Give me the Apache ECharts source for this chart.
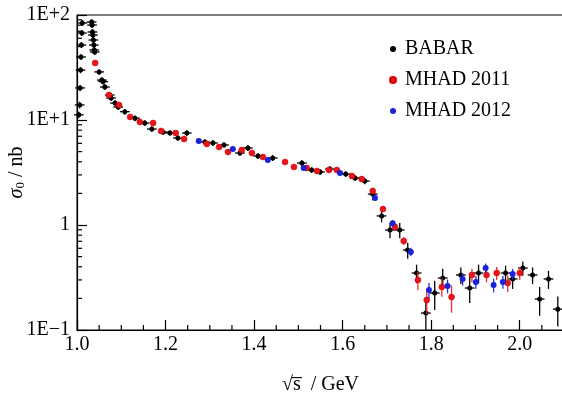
<!DOCTYPE html>
<html>
<head>
<meta charset="utf-8">
<script src="https://cdn.jsdelivr.net/npm/echarts@6/dist/echarts.min.js"></script>
<style>
  html, body { margin: 0; padding: 0; background: #fff; }
  #chart { width: 562px; height: 395px; }
</style>
</head>
<body>
<div id="chart"></div>
<script>
// BABAR points [sqrt(s) GeV, sigma0 nb] and vertical errors (nb)
const babarPoints = [
  [1.004, 11.2], [1.006, 13.9], [1.007, 20.2], [1.008, 29.9], [1.009, 39.8], [1.010, 51.8],
  [1.011, 67.4], [1.012, 83.9], [1.033, 85.8], [1.034, 80.3], [1.035, 68.9], [1.036, 64.5],
  [1.037, 57.8], [1.038, 51.8], [1.039, 46.4], [1.040, 44.4], [1.050, 28.7], [1.056, 24.0],
  [1.059, 23.2], [1.063, 20.6], [1.074, 17.3], [1.077, 16.2], [1.086, 14.5], [1.093, 13.3],
  [1.108, 12.0], [1.131, 10.4], [1.153, 9.36], [1.169, 8.2], [1.194, 7.69], [1.210, 7.52],
  [1.228, 6.74], [1.248, 7.52], [1.289, 6.17], [1.307, 6.04], [1.332, 5.78], [1.368, 4.85],
  [1.386, 5.41], [1.409, 4.54], [1.442, 4.35], [1.508, 3.89], [1.530, 3.34], [1.549, 3.20],
  [1.571, 3.41], [1.607, 3.06], [1.628, 2.80], [1.650, 2.62], [1.668, 1.97], [1.688, 1.22],
  [1.707, 0.896], [1.729, 0.896], [1.747, 0.578], [1.767, 0.349], [1.788, 0.145], [1.808, 0.225],
  [1.826, 0.313], [1.867, 0.334], [1.887, 0.251], [1.907, 0.349], [1.968, 0.349], [1.984, 0.306],
  [2.007, 0.389], [2.029, 0.334], [2.045, 0.197], [2.065, 0.306], [2.086, 0.158]
];
const babarErr = [
  0.8, 1.0, 1.4, 2.0, 2.6, 3.4, 4.4, 5.5, 5.5, 5.2, 4.5, 4.2,
  3.8, 3.4, 3.0, 2.9, 1.9, 1.6, 1.5, 1.3, 1.1, 1.0, 0.9, 0.85,
  0.75, 0.65, 0.6, 0.5, 0.5, 0.45, 0.4, 0.45, 0.4, 0.4, 0.35, 0.3,
  0.33, 0.28, 0.27, 0.25, 0.21, 0.2, 0.21, 0.19, 0.18, 0.17, 0.25, 0.16,
  0.15, 0.15, 0.1, 0.07, 0.06, 0.07, 0.07, 0.06, 0.07, 0.07, 0.06, 0.06,
  0.06, 0.06, 0.06, 0.06, 0.05
];

// MHAD 2011
const mhad2011Points = [
  [1.041, 34.9], [1.072, 17.3], [1.095, 13.9], [1.120, 10.7], [1.142, 9.57], [1.172, 9.36],
  [1.190, 7.86], [1.223, 7.52], [1.242, 6.59], [1.293, 5.91], [1.321, 5.53], [1.341, 4.96],
  [1.372, 5.18], [1.395, 4.85], [1.420, 4.44], [1.470, 3.98], [1.490, 3.57], [1.519, 3.49],
  [1.542, 3.27], [1.569, 3.34], [1.587, 3.34], [1.621, 2.93], [1.643, 2.74], [1.668, 2.11],
  [1.691, 1.42], [1.718, 0.96], [1.738, 0.704], [1.770, 0.299], [1.790, 0.193], [1.824, 0.257],
  [1.846, 0.206], [1.892, 0.334], [1.925, 0.334], [1.948, 0.349], [1.973, 0.280], [2.000, 0.349]
];
const mhad2011Err = [
  1.5, 0.8, 0.6, 0.5, 0.45, 0.45, 0.4, 0.35, 0.3, 0.3, 0.25, 0.25,
  0.25, 0.25, 0.2, 0.2, 0.18, 0.18, 0.16, 0.16, 0.16, 0.15, 0.14, 0.12,
  0.09, 0.07, 0.06, 0.06, 0.05, 0.05, 0.06, 0.05, 0.05, 0.05, 0.05, 0.05
];

// MHAD 2012
const mhad2012Points = [
  [1.275, 6.3], [1.352, 5.29], [1.431, 4.16], [1.512, 3.49], [1.594, 3.13], [1.673, 1.81],
  [1.713, 1.04], [1.754, 0.553], [1.795, 0.240], [1.837, 0.263], [1.871, 0.306], [1.901, 0.287],
  [1.923, 0.389], [1.941, 0.268], [1.962, 0.287], [1.984, 0.341]
];
const mhad2012Err = [
  0.3, 0.25, 0.2, 0.17, 0.15, 0.1, 0.07, 0.05, 0.04, 0.04, 0.04, 0.04,
  0.04, 0.04, 0.04, 0.04
];

const yTickValues = [0.1, 1, 10, 100];
const yTickLabels = ['1E\u22121', '1', '1E+1', '1E+2'];
const xTickLabels = ['1.0', '1.2', '1.4', '1.6', '1.8', '2.0'];

const X_MIN = 1.0, X_MAX = 2.1, Y_MIN = 0.1, Y_MAX = 100;
const BABAR_XERR = 0.011;
const FONT = "'Liberation Serif', 'Times New Roman', serif";

// minor tick positions
const xMinor = [];
for (let k = 21; k < 42; k++) { if (k % 4 !== 0) xMinor.push(+(k * 0.05).toFixed(2)); }
const yMinor = [];
[0.1, 1, 10].forEach(d => { for (let k = 2; k <= 9; k++) yMinor.push(+(k * d).toPrecision(2)); });

function withErr(points, errs) {
  return points.map((p, i) => [p[0], p[1], errs[i]]);
}

function errRender(xerr, color, width) {
  return function (params, api) {
    const x = api.value(0), y = api.value(1), e = api.value(2);
    const lo = Math.max(y - e, Y_MIN);
    const pTop = api.coord([x, y + e]);
    const pBot = api.coord([x, lo]);
    const children = [{
      type: 'line',
      shape: { x1: pTop[0], y1: pTop[1], x2: pBot[0], y2: pBot[1] },
      style: { stroke: color, lineWidth: width }
    }];
    if (xerr > 0) {
      const pl = api.coord([x - xerr, y]);
      const pr = api.coord([x + xerr, y]);
      children.push({
        type: 'line',
        shape: { x1: pl[0], y1: pl[1], x2: pr[0], y2: pr[1] },
        style: { stroke: color, lineWidth: width }
      });
    }
    return { type: 'group', children };
  };
}

// short inner ticks along the axes: [x, y, dx, dy]
function tickRender(params, api) {
  const p = api.coord([api.value(0), api.value(1)]);
  const dx = api.value(2), dy = api.value(3);
  return {
    type: 'group',
    children: [{
      type: 'line',
      shape: { x1: p[0], y1: p[1], x2: p[0] + dx, y2: p[1] + dy },
      style: { stroke: '#000', lineWidth: 1.2 }
    }]
  };
}

const minorTickData = xMinor.map(v => [v, Y_MIN * 1.0001, 0, -5])
  .concat(yMinor.map(v => [X_MIN + 0.0001, v, 5, 0]));

const chart = echarts.init(document.getElementById('chart'), null, { renderer: 'canvas' });

chart.setOption({
  animation: false,
  backgroundColor: '#fff',
  textStyle: { fontFamily: FONT, color: '#000' },
  grid: {
    left: 77, top: 15, bottom: 65, right: -2,
    outerBoundsMode: 'none', containLabel: false,
    show: true, borderColor: '#000', borderWidth: 1, backgroundColor: 'transparent'
  },
  legend: {
    data: ['BABAR', 'MHAD 2011', 'MHAD 2012'],
    orient: 'vertical',
    left: 384,
    top: 34,
    itemWidth: 6,
    itemHeight: 6,
    itemGap: 11,
    textStyle: { fontFamily: FONT, fontSize: 20, color: '#000', lineHeight: 20, padding: [0, 0, 0, 4] }
  },
  xAxis: {
    type: 'value',
    min: X_MIN,
    max: X_MAX,
    interval: 0.2,
    name: '\u221As\u0305  / GeV',
    nameLocation: 'middle',
    nameGap: 45,
    nameMoveOverlap: false,
    nameTextStyle: { fontFamily: FONT, fontSize: 20, color: '#000' },
    axisLine: { onZero: false, lineStyle: { color: '#000', width: 1.2 } },
    axisTick: { inside: true, length: 10, lineStyle: { color: '#000', width: 1.2 } },
    axisLabel: {
      fontFamily: FONT, fontSize: 20, color: '#000', margin: 5, showMaxLabel: false,
      formatter: v => {
        const i = Math.round((v - 1.0) / 0.2);
        return Math.abs(v - (1.0 + i * 0.2)) < 1e-6 ? (xTickLabels[i] || '') : '';
      }
    },
    splitLine: { show: false }
  },
  yAxis: {
    type: 'log',
    logBase: 10,
    min: Y_MIN,
    max: Y_MAX,
    name: '{i|\u03C3}{s|0} / nb',
    nameLocation: 'middle',
    nameGap: 50,
    nameRotate: 90,
    nameMoveOverlap: false,
    nameTextStyle: {
      fontFamily: FONT, fontSize: 20, color: '#000',
      rich: {
        i: { fontFamily: FONT, fontSize: 20, fontStyle: 'italic', color: '#000' },
        s: { fontFamily: FONT, fontSize: 13, color: '#000', padding: [8, 0, 0, 0] }
      }
    },
    axisLine: { show: true, onZero: false, lineStyle: { color: '#000', width: 1.2 } },
    axisTick: { show: true, inside: true, length: 10, lineStyle: { color: '#000', width: 1.2 } },
    axisLabel: {
      fontFamily: FONT, fontSize: 20, color: '#000', margin: 7,
      formatter: v => {
        const i = yTickValues.findIndex(t => Math.abs(Math.log10(t) - Math.log10(v)) < 1e-6);
        return i >= 0 ? yTickLabels[i] : '';
      }
    },
    splitLine: { show: false }
  },
  series: [
    {
      name: 'minor-ticks', type: 'custom', silent: true,
      renderItem: tickRender,
      encode: { x: 0, y: 1 },
      data: minorTickData, z: 2
    },
    {
      name: 'BABAR-err', type: 'custom', silent: true,
      renderItem: errRender(BABAR_XERR, '#000', 1.3),
      encode: { x: 0, y: 1 },
      data: withErr(babarPoints, babarErr), z: 2
    },
    {
      name: 'BABAR', type: 'scatter',
      symbol: 'circle', symbolSize: 5,
      itemStyle: { color: '#000', opacity: 1 },
      data: babarPoints, z: 3
    },
    {
      name: 'MHAD 2011-err', type: 'custom', silent: true,
      renderItem: errRender(0, '#ee3030', 1.3),
      encode: { x: 0, y: 1 },
      data: withErr(mhad2011Points, mhad2011Err), z: 4
    },
    {
      name: 'MHAD 2011', type: 'scatter',
      symbol: 'circle', symbolSize: 6,
      itemStyle: { color: '#e8141c', borderColor: '#d40000', borderWidth: 0.5, opacity: 1 },
      data: mhad2011Points, z: 5
    },
    {
      name: 'MHAD 2012-err', type: 'custom', silent: true,
      renderItem: errRender(0, '#2030e0', 1.3),
      encode: { x: 0, y: 1 },
      data: withErr(mhad2012Points, mhad2012Err), z: 6
    },
    {
      name: 'MHAD 2012', type: 'scatter',
      symbol: 'circle', symbolSize: 6,
      itemStyle: { color: '#1a22dc', opacity: 1 },
      data: mhad2012Points, z: 7
    }
  ]
});
</script>
</body>
</html>
